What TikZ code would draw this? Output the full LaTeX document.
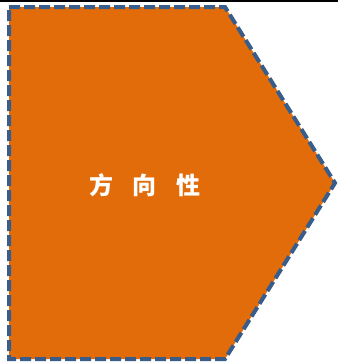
\documentclass[tikz,border=0pt]{standalone}
\usepackage{fontspec}
\newfontfamily\cjk{Noto Sans CJK SC}
\definecolor{fillor}{RGB}{227,108,10}
\definecolor{edgeb}{RGB}{56,93,138}
\tikzset{
  arrowshape/.style={fill=fillor, draw=edgeb, line width=4pt, dash pattern=on 11pt off 4pt, line join=miter},
  lbl/.style={text=white, font=\cjk\bfseries\fontsize{24pt}{24pt}\selectfont, inner sep=0pt}
}
\begin{document}
\begin{tikzpicture}[x=1pt,y=-1pt]
\useasboundingbox (0,0) rectangle (338,364);
\draw[black, line width=2pt] (0,0.5) -- (338,0.5);
\coordinate (p1) at (9,7);
\coordinate (p2) at (225,7);
\coordinate (p3) at (335,183);
\coordinate (p4) at (225,359);
\coordinate (p5) at (9,359);
\draw[arrowshape] (p1) -- (p2) -- (p3) -- (p4) -- (p5) -- cycle;
\node[lbl] (t) at (145,185) {方\hspace{20pt}向\hspace{20pt}性};
\end{tikzpicture}
\end{document}
